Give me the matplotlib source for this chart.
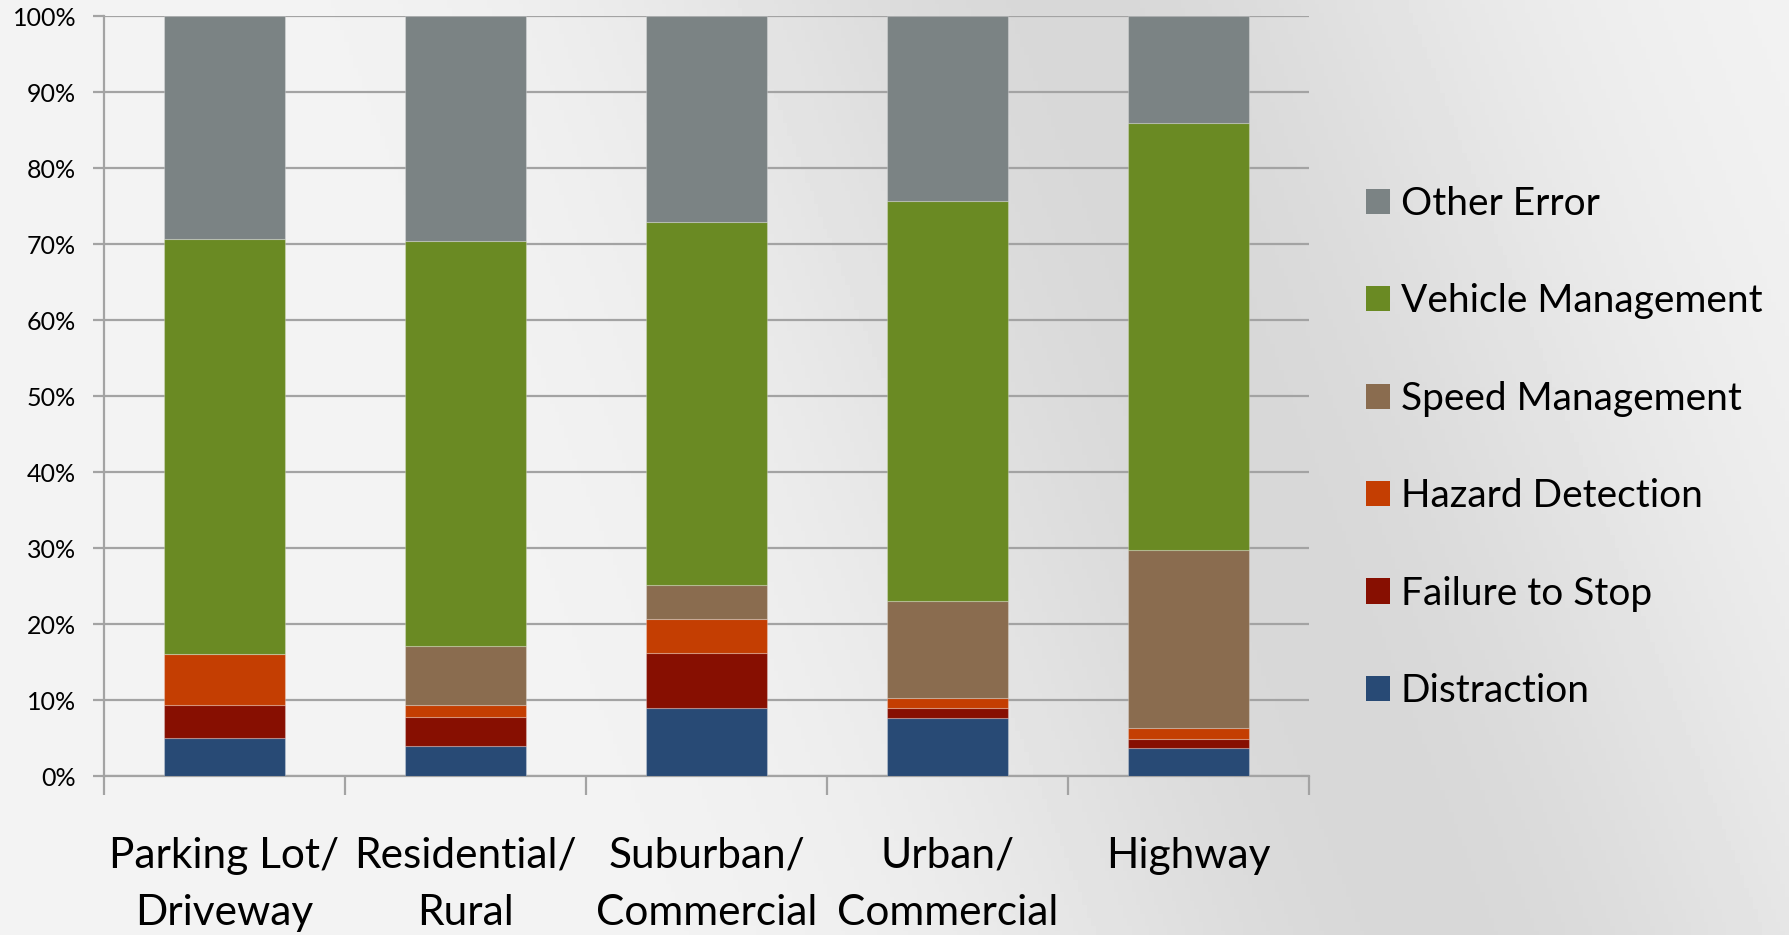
import numpy as np
import matplotlib
matplotlib.use('Agg')
import matplotlib.pyplot as plt
from matplotlib.patches import Patch

plt.rcParams['font.family'] = ['Lato', 'DejaVu Sans']

# 데이터 (퍼센트)
categories = ['Parking Lot/\nDriveway', 'Residential/\nRural', 'Suburban/\nCommercial',
              'Urban/\nCommercial', 'Highway']
distraction = [5.0, 3.9, 8.9, 7.6, 3.7]
failure_to_stop = [4.4, 3.8, 7.3, 1.3, 1.2]
hazard_detection = [6.6, 1.6, 4.5, 1.3, 1.4]
speed_management = [0.0, 7.8, 4.4, 12.8, 23.4]
vehicle_management = [54.7, 53.3, 47.8, 52.6, 56.2]
other_error = [29.3, 29.6, 27.1, 24.4, 14.1]

series = [
    ('Distraction', distraction, '#284a75'),
    ('Failure to Stop', failure_to_stop, '#870f01'),
    ('Hazard Detection', hazard_detection, '#c43e02'),
    ('Speed Management', speed_management, '#8a6c4f'),
    ('Vehicle Management', vehicle_management, '#6a8a23'),
    ('Other Error', other_error, '#7b8384'),
]

fig = plt.figure(figsize=(17.89, 9.35), dpi=100)

# 배경 그라데이션 (대각선 방향으로 어두운 띠)
bg = fig.add_axes([0, 0, 1, 1], zorder=-10)
u, v = np.meshgrid(np.linspace(0, 1, 400), np.linspace(0, 1, 220))
asp = 935 / 1789
p0 = np.array([0.60, 0.0])
d = np.array([0.20, 1.0 * asp])
d = d / np.hypot(*d)
px = u - p0[0]
py = (v - p0[1]) * asp
dist = np.abs(px * d[1] - py * d[0])
val = 0.955 - 0.11 * np.exp(-(dist ** 2) / (2 * 0.16 ** 2))
bg.imshow(val, cmap='gray', vmin=0, vmax=1, aspect='auto', extent=[0, 1, 1, 0])
bg.set_xlim(0, 1)
bg.set_ylim(1, 0)
bg.axis('off')

ax = fig.add_axes([104 / 1789, 1 - 776 / 935, (1309 - 104) / 1789, 760 / 935])
ax.set_facecolor('none')

x = np.arange(len(categories))
bottom = np.zeros(len(categories))
handles = []
for name, vals, color in series:
    vals = np.array(vals) / 100.0
    ax.bar(x, vals, width=0.5, bottom=bottom, color=color,
           edgecolor=(1, 1, 1, 0.25), linewidth=0.8, zorder=3)
    bottom += vals
    handles.append(Patch(facecolor=color, label=name))

ax.set_xlim(-0.5, len(categories) - 0.5)
ax.set_ylim(0, 1)
ax.set_yticks(np.arange(0, 1.01, 0.1))
ax.set_yticklabels([f'{int(round(t * 100))}%' for t in np.arange(0, 1.01, 0.1)], fontsize=18)
ax.yaxis.grid(True, color='#a3a3a3', linewidth=1.6, zorder=0)
ax.set_axisbelow(True)

ax.set_xticks(np.arange(-0.5, len(categories), 1.0))
ax.set_xticklabels([])
for i, c in enumerate(categories):
    ax.text(i, -0.080, c, ha='center', va='top', fontsize=30.5,
            linespacing=1.63, transform=ax.get_xaxis_transform())

for s in ['top', 'right']:
    ax.spines[s].set_visible(False)
for s in ['left', 'bottom']:
    ax.spines[s].set_color('#a3a3a3')
    ax.spines[s].set_linewidth(1.6)
ax.tick_params(axis='y', length=8, width=1.6, color='#a3a3a3', pad=12)
ax.tick_params(axis='x', length=14, width=1.6, color='#a3a3a3')

leg = fig.legend(handles=handles[::-1], loc='upper left',
                 bbox_to_anchor=(1366 / 1789, 1 - 186 / 935),
                 frameon=False, fontsize=28, handlelength=0.62, handleheight=0.62,
                 handletextpad=0.28, labelspacing=1.58, borderpad=0, borderaxespad=0)

fig.savefig('out.png', dpi=100)
